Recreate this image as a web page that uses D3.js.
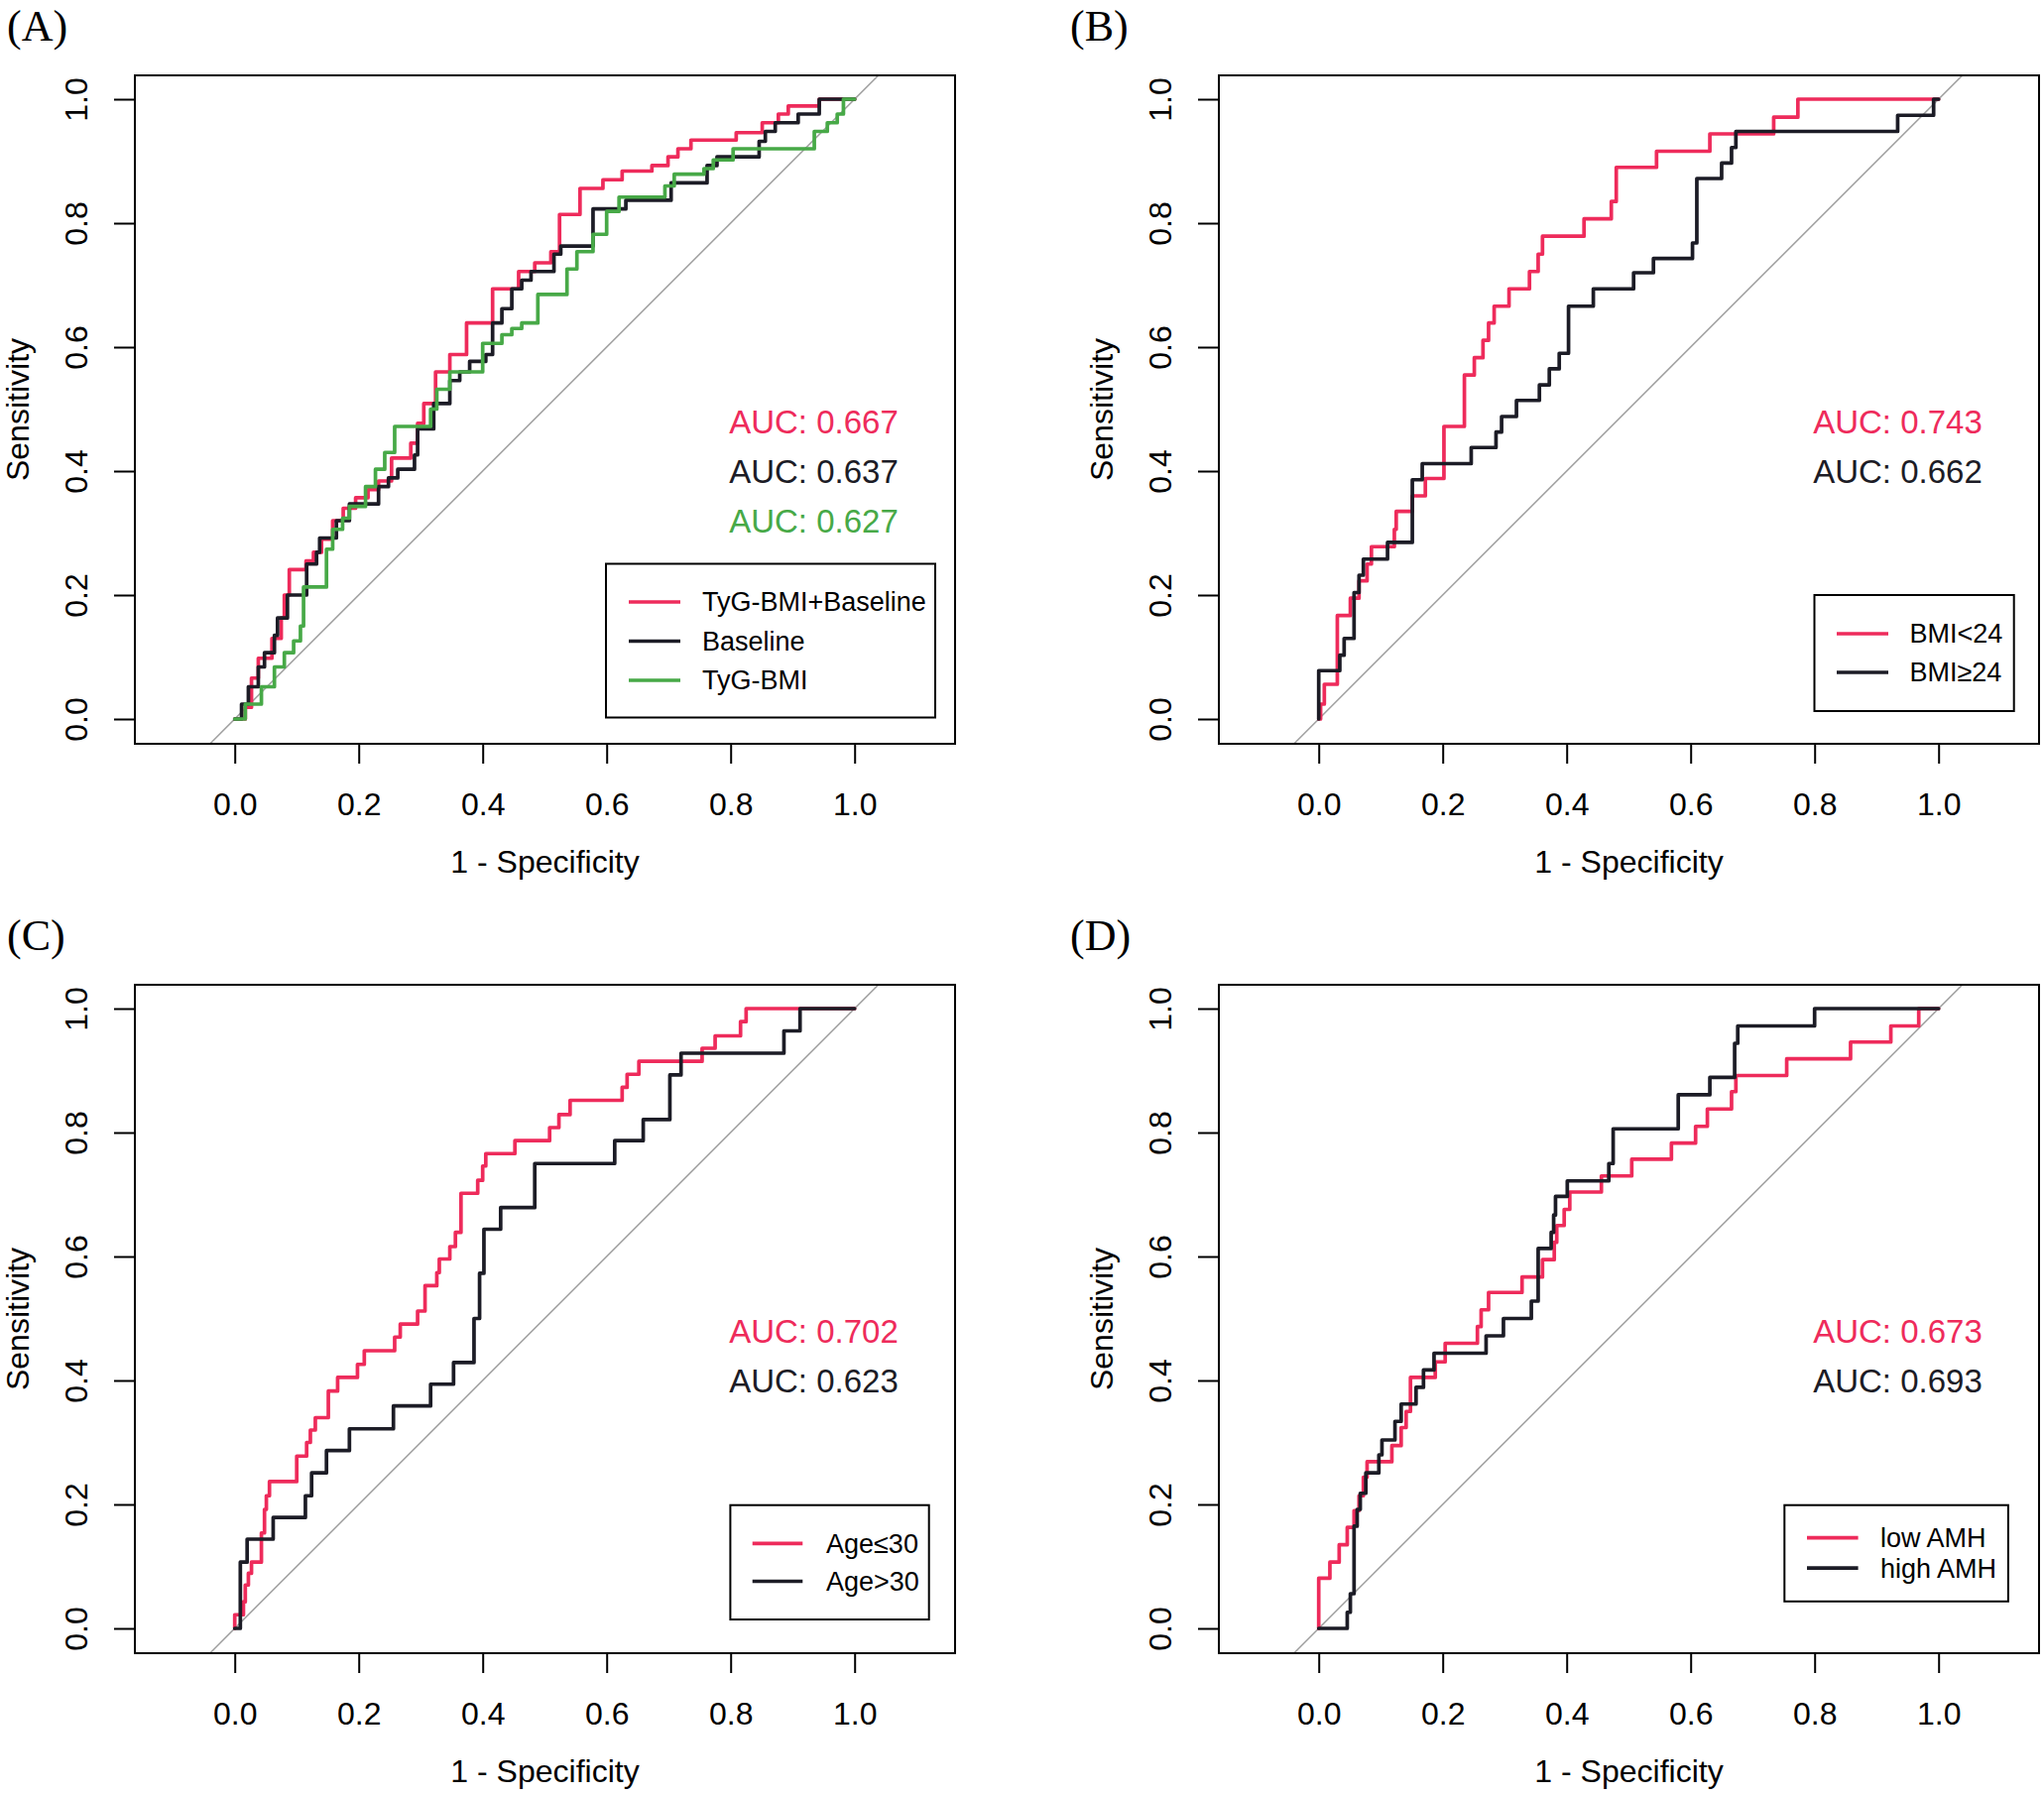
<!DOCTYPE html>
<html>
<head>
<meta charset="utf-8">
<script src="https://cdn.jsdelivr.net/npm/d3@7"></script>
<style>
  html, body { margin: 0; padding: 0; background: #ffffff; }
  svg { display: block; }
</style>
</head>
<body>
<script>
// ---------------- DATA ----------------
const panelLabels = ["(A)", "(B)", "(C)", "(D)"];
const xTickValues = [0, 0.2, 0.4, 0.6, 0.8, 1.0];
const yTickValues = [0, 0.2, 0.4, 0.6, 0.8, 1.0];
const xAxisTitle = "1 - Specificity";
const yAxisTitle = "Sensitivity";

// Panel A
const namesA = ["TyG-BMI+Baseline", "Baseline", "TyG-BMI"];
const aucA = ["0.667", "0.637", "0.627"];
const rocA_TyGBMIBaseline = [[0,0],[0.017,0.019],[0.027,0.066],[0.038,0.098],[0.06,0.13],[0.075,0.163],[0.08,0.2],[0.088,0.241],[0.115,0.255],[0.127,0.269],[0.14,0.29],[0.158,0.32],[0.175,0.34],[0.195,0.357],[0.215,0.37],[0.232,0.384],[0.253,0.421],[0.284,0.445],[0.295,0.477],[0.305,0.509],[0.324,0.56],[0.347,0.588],[0.374,0.639],[0.416,0.694],[0.458,0.722],[0.484,0.736],[0.51,0.754],[0.524,0.814],[0.557,0.856],[0.594,0.87],[0.625,0.884],[0.673,0.893],[0.699,0.907],[0.715,0.92],[0.736,0.934],[0.809,0.946],[0.851,0.962],[0.877,0.976],[0.893,0.989],[0.943,1],[1,1]];
const rocA_Baseline = [[0,0],[0.011,0.024],[0.022,0.052],[0.038,0.084],[0.048,0.107],[0.064,0.135],[0.069,0.163],[0.085,0.2],[0.116,0.25],[0.132,0.269],[0.137,0.292],[0.164,0.32],[0.185,0.347],[0.232,0.375],[0.248,0.389],[0.263,0.403],[0.29,0.426],[0.295,0.468],[0.321,0.509],[0.347,0.546],[0.363,0.56],[0.379,0.577],[0.405,0.588],[0.416,0.639],[0.431,0.662],[0.447,0.694],[0.463,0.708],[0.478,0.722],[0.515,0.75],[0.526,0.763],[0.578,0.823],[0.631,0.837],[0.704,0.865],[0.762,0.893],[0.778,0.907],[0.846,0.932],[0.856,0.948],[0.872,0.962],[0.909,0.976],[0.943,1],[1,1]];
const rocA_TyGBMI = [[0,0],[0.017,0.024],[0.043,0.052],[0.064,0.084],[0.08,0.107],[0.095,0.126],[0.106,0.15],[0.111,0.213],[0.148,0.274],[0.158,0.306],[0.174,0.324],[0.185,0.343],[0.211,0.375],[0.227,0.403],[0.242,0.43],[0.258,0.472],[0.316,0.5],[0.326,0.532],[0.347,0.56],[0.4,0.606],[0.431,0.62],[0.447,0.63],[0.463,0.639],[0.489,0.685],[0.536,0.726],[0.552,0.754],[0.578,0.782],[0.6,0.819],[0.62,0.842],[0.694,0.86],[0.709,0.879],[0.757,0.888],[0.772,0.902],[0.804,0.92],[0.935,0.948],[0.956,0.962],[0.972,0.976],[0.982,1],[1,1]];

// Panel B
const namesB = ["BMI<24", "BMI\u226524"];
const aucB = ["0.743", "0.662"];
const rocB_BMIlow = [[0,0],[0.003,0.024],[0.009,0.056],[0.03,0.167],[0.051,0.195],[0.065,0.223],[0.078,0.25],[0.085,0.278],[0.122,0.306],[0.125,0.335],[0.151,0.36],[0.172,0.388],[0.202,0.472],[0.235,0.555],[0.251,0.583],[0.265,0.611],[0.274,0.639],[0.283,0.666],[0.307,0.694],[0.34,0.722],[0.354,0.75],[0.361,0.779],[0.428,0.807],[0.472,0.835],[0.48,0.89],[0.545,0.916],[0.631,0.944],[0.734,0.971],[0.773,1],[1,1]];
const rocB_BMIhigh = [[0,0],[0,0.078],[0.034,0.103],[0.041,0.13],[0.057,0.204],[0.065,0.232],[0.072,0.258],[0.111,0.285],[0.151,0.386],[0.167,0.412],[0.246,0.438],[0.286,0.463],[0.295,0.488],[0.319,0.514],[0.356,0.539],[0.372,0.565],[0.388,0.59],[0.403,0.666],[0.443,0.694],[0.508,0.72],[0.54,0.743],[0.603,0.768],[0.61,0.872],[0.65,0.897],[0.666,0.922],[0.673,0.948],[0.934,0.974],[0.992,1],[1,1]];

// Panel C
const namesC = ["Age\u226430", "Age>30"];
const aucC = ["0.702", "0.623"];
const rocC_AgeLow = [[0,0],[0,0.022],[0.014,0.043],[0.017,0.07],[0.022,0.089],[0.027,0.107],[0.043,0.154],[0.048,0.192],[0.051,0.214],[0.056,0.237],[0.1,0.278],[0.116,0.3],[0.122,0.32],[0.13,0.34],[0.151,0.383],[0.166,0.405],[0.198,0.426],[0.209,0.448],[0.258,0.47],[0.267,0.491],[0.295,0.512],[0.307,0.553],[0.326,0.574],[0.33,0.596],[0.347,0.616],[0.356,0.639],[0.365,0.702],[0.392,0.723],[0.4,0.746],[0.405,0.766],[0.452,0.787],[0.508,0.808],[0.523,0.829],[0.541,0.852],[0.625,0.873],[0.633,0.894],[0.652,0.915],[0.754,0.936],[0.775,0.956],[0.816,0.979],[0.825,1],[1,1]];
const rocC_AgeHigh = [[0,0],[0.009,0.107],[0.02,0.144],[0.062,0.179],[0.114,0.214],[0.124,0.251],[0.148,0.287],[0.185,0.322],[0.256,0.359],[0.316,0.394],[0.353,0.429],[0.386,0.5],[0.395,0.573],[0.402,0.644],[0.429,0.679],[0.484,0.75],[0.613,0.787],[0.659,0.821],[0.702,0.893],[0.72,0.928],[0.886,0.964],[0.912,1],[1,1]];

// Panel D
const namesD = ["low AMH", "high AMH"];
const aucD = ["0.673", "0.693"];
const rocD_lowAMH = [[0,0],[0,0.081],[0.018,0.107],[0.033,0.135],[0.046,0.163],[0.057,0.19],[0.065,0.214],[0.072,0.244],[0.078,0.269],[0.118,0.295],[0.133,0.324],[0.141,0.35],[0.148,0.405],[0.188,0.43],[0.204,0.46],[0.256,0.487],[0.262,0.514],[0.274,0.542],[0.328,0.567],[0.361,0.595],[0.38,0.623],[0.384,0.65],[0.396,0.676],[0.405,0.704],[0.456,0.73],[0.505,0.757],[0.569,0.783],[0.608,0.81],[0.627,0.838],[0.666,0.866],[0.673,0.892],[0.755,0.919],[0.858,0.946],[0.923,0.972],[0.968,1],[1,1]];
const rocD_highAMH = [[0,0],[0.046,0.026],[0.051,0.056],[0.057,0.165],[0.062,0.192],[0.067,0.218],[0.076,0.251],[0.097,0.28],[0.102,0.304],[0.123,0.334],[0.133,0.362],[0.157,0.389],[0.169,0.417],[0.186,0.444],[0.27,0.472],[0.298,0.5],[0.343,0.528],[0.354,0.613],[0.375,0.639],[0.379,0.667],[0.382,0.697],[0.401,0.722],[0.468,0.75],[0.475,0.806],[0.58,0.861],[0.631,0.889],[0.671,0.944],[0.676,0.972],[0.8,1],[1,1]];

// ---------------- STYLE / LAYOUT ----------------
const RED = "#EE2B5B", BLACK = "#1C1C26", GREEN = "#47A947";
const W = 2061, H = 1811;
const SANS = "'Liberation Sans', Arial, Helvetica, sans-serif";
const SERIF = "'Liberation Serif', 'Times New Roman', serif";
const CURVE_W = 3.7;

const panels = [
  { label: panelLabels[0], ox: 0, oy: 0, labelX: 7,
    series: [ {data: rocA_TyGBMIBaseline, color: RED}, {data: rocA_Baseline, color: BLACK}, {data: rocA_TyGBMI, color: GREEN} ],
    names: namesA, aucs: aucA,
    legend: { x0: 611, x1: 943, y0: 568.5, y1: 723.5, lx0: 634, lx1: 686, tx: 708, rows: [607, 646.5, 686] } },
  { label: panelLabels[1], ox: 1093, oy: 0, labelX: -14,
    series: [ {data: rocB_BMIlow, color: RED}, {data: rocB_BMIhigh, color: BLACK} ],
    names: namesB, aucs: aucB,
    legend: { x0: 736.5, x1: 937.7, y0: 600, y1: 717, lx0: 759, lx1: 811, tx: 832.5, rows: [639, 678] } },
  { label: panelLabels[2], ox: 0, oy: 917, labelX: 7,
    series: [ {data: rocC_AgeLow, color: RED}, {data: rocC_AgeHigh, color: BLACK} ],
    names: namesC, aucs: aucC,
    legend: { x0: 736.4, x1: 936.7, y0: 600.7, y1: 716, lx0: 758.7, lx1: 809.3, tx: 833, rows: [639.4, 677.5] } },
  { label: panelLabels[3], ox: 1093, oy: 917, labelX: -14,
    series: [ {data: rocD_lowAMH, color: RED}, {data: rocD_highAMH, color: BLACK} ],
    names: namesD, aucs: aucD,
    legend: { x0: 706.3, x1: 931.9, y0: 600.7, y1: 697.8, lx0: 729, lx1: 780.6, tx: 803, rows: [633.6, 664.2] } }
];

const svg = d3.select("body").append("svg")
  .attr("width", W).attr("height", H)
  .attr("viewBox", `0 0 ${W} ${H}`);
svg.append("rect").attr("width", W).attr("height", H).attr("fill", "#fff");

// plot frame (local coords)
const frame = { left: 136, right: 963, top: 76, bottom: 750 };
const x = d3.scaleLinear().domain([0, 1]).range([236.7, 861.7]);
const y = d3.scaleLinear().domain([0, 1]).range([725, 100]);
const aucPos = { x: 0.934, y: 0.461, step: 0.08 };

const line = d3.line().x(d => x(d[0])).y(d => y(d[1])).curve(d3.curveStepAfter);

panels.forEach((p, i) => {
  const g = svg.append("g").attr("transform", `translate(${p.ox},${p.oy})`);

  // panel label
  g.append("text")
    .attr("x", p.labelX).attr("y", 41)
    .attr("font-family", SERIF).attr("font-size", 44)
    .attr("fill", "#000")
    .text(p.label);

  // clip
  const clipId = "clip" + i;
  g.append("clipPath").attr("id", clipId)
    .append("rect")
    .attr("x", frame.left).attr("y", frame.top)
    .attr("width", frame.right - frame.left).attr("height", frame.bottom - frame.top);

  // diagonal reference line
  g.append("line")
    .attr("clip-path", `url(#${clipId})`)
    .attr("x1", x(-0.04)).attr("y1", y(-0.04))
    .attr("x2", x(1.04)).attr("y2", y(1.04))
    .attr("stroke", "#a3a3a3").attr("stroke-width", 1.6);

  // curves
  p.series.forEach(s => {
    g.append("path")
      .datum(s.data)
      .attr("d", line)
      .attr("fill", "none")
      .attr("stroke", s.color)
      .attr("stroke-width", CURVE_W)
      .attr("stroke-linejoin", "round")
      .attr("stroke-linecap", "round");
  });

  // box
  g.append("rect")
    .attr("x", frame.left).attr("y", frame.top)
    .attr("width", frame.right - frame.left).attr("height", frame.bottom - frame.top)
    .attr("fill", "none").attr("stroke", "#000").attr("stroke-width", 2);

  // x axis
  const xa = g.append("g").attr("transform", `translate(0,${frame.bottom})`)
    .call(d3.axisBottom(x).tickValues(xTickValues).tickSize(20).tickFormat(d3.format(".1f")));
  xa.select(".domain").remove();
  xa.selectAll(".tick line").attr("stroke", "#000").attr("stroke-width", 2);
  xa.selectAll(".tick text")
    .attr("y", 72).attr("dy", 0)
    .attr("font-family", SANS).attr("font-size", 32).attr("fill", "#000");

  // y axis
  const ya = g.append("g").attr("transform", `translate(${frame.left},0)`)
    .call(d3.axisLeft(y).tickValues(yTickValues).tickSize(21).tickFormat(d3.format(".1f")));
  ya.select(".domain").remove();
  ya.selectAll(".tick line").attr("stroke", "#000").attr("stroke-width", 2);
  ya.selectAll(".tick text")
    .attr("x", 0).attr("y", 0).attr("dy", 0)
    .attr("text-anchor", "middle")
    .attr("transform", "translate(-48,0) rotate(-90)")
    .attr("font-family", SANS).attr("font-size", 32).attr("fill", "#000");

  // axis titles
  g.append("text")
    .attr("x", (frame.left + frame.right) / 2).attr("y", 880)
    .attr("text-anchor", "middle")
    .attr("font-family", SANS).attr("font-size", 32).attr("fill", "#000")
    .text(xAxisTitle);
  g.append("text")
    .attr("transform", `translate(29,${(frame.top + frame.bottom) / 2}) rotate(-90)`)
    .attr("text-anchor", "middle")
    .attr("font-family", SANS).attr("font-size", 32).attr("fill", "#000")
    .text(yAxisTitle);

  // AUC labels
  p.aucs.forEach((a, k) => {
    g.append("text")
      .attr("x", x(aucPos.x)).attr("y", y(aucPos.y - k * aucPos.step))
      .attr("text-anchor", "middle")
      .attr("font-family", SANS).attr("font-size", 33)
      .attr("fill", p.series[k].color)
      .text("AUC: " + a);
  });

  // legend
  const L = p.legend;
  g.append("rect")
    .attr("x", L.x0).attr("y", L.y0)
    .attr("width", L.x1 - L.x0).attr("height", L.y1 - L.y0)
    .attr("fill", "#fff").attr("stroke", "#000").attr("stroke-width", 2);
  p.names.forEach((n, k) => {
    g.append("line")
      .attr("x1", L.lx0).attr("x2", L.lx1)
      .attr("y1", L.rows[k]).attr("y2", L.rows[k])
      .attr("stroke", p.series[k].color).attr("stroke-width", CURVE_W);
    g.append("text")
      .attr("x", L.tx).attr("y", L.rows[k]).attr("dy", "0.35em")
      .attr("font-family", SANS).attr("font-size", 27).attr("fill", "#000")
      .text(n);
  });
});
</script>
</body>
</html>
